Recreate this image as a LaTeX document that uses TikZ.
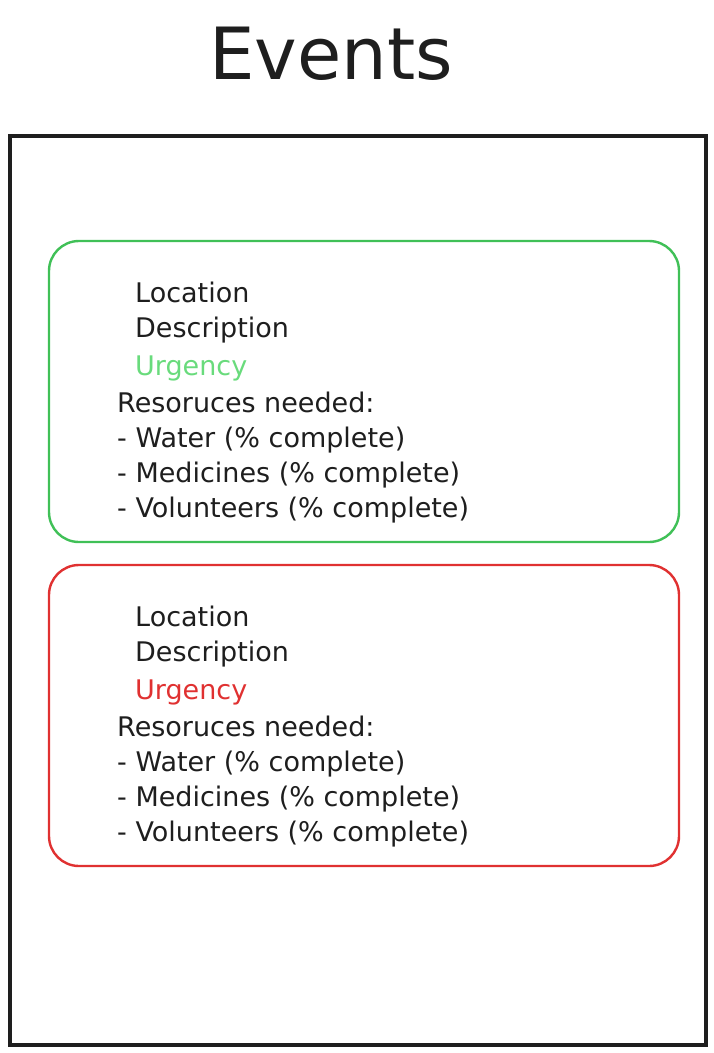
\documentclass[tikz,border=0pt]{standalone}
\usepackage{fontspec}
\setmainfont{DejaVu Sans}
\usepackage{xcolor}
\usepackage{tikz}

\definecolor{inkblack}{HTML}{1E1E1E}
\definecolor{okgreen}{HTML}{40C057}
\definecolor{okgreenlight}{HTML}{69DB7C}
\definecolor{alertred}{HTML}{E03131}

\begin{document}
\begin{tikzpicture}[x=1pt,y=-1pt,
    panel/.style={draw=inkblack,line width=3.5pt,minimum width=696pt,minimum height=909pt,inner sep=0pt},
    card/.style={draw=#1,line width=2.4pt,rounded corners=30pt,minimum width=630pt,minimum height=301pt,inner sep=0pt},
    field/.style={anchor=base west,inner sep=0pt,text=inkblack,font=\fontsize{27}{32}\selectfont}]
  \useasboundingbox (0,0) rectangle (714,1053);

  \node[anchor=base,inner sep=0pt,text=inkblack,font=\fontsize{72}{80}\selectfont] (title) at (331,79) {Events};
  \node[panel] (board) at (358,590.5) {};

  % one card per event, the second one 324px lower
  \foreach \ev/\col/\urg/\dy in {ok/okgreen/okgreenlight/0, bad/alertred/alertred/324} {
    \node[card=\col] (card-\ev) at (364,{391.5+\dy}) {};
    \node[field] (loc-\ev) at (135,{302+\dy}) {Location};
    \node[field] (desc-\ev) at (135,{337+\dy}) {Description};
    \node[field,text=\urg] (urg-\ev) at (135,{375+\dy}) {Urgency};
    \node[field] (res-\ev) at (117,{412+\dy}) {Resoruces needed:};
    \node[field] (water-\ev) at (117,{447+\dy}) {- Water (\% complete)};
    \node[field] (med-\ev) at (117,{482+\dy}) {- Medicines (\% complete)};
    \node[field] (vol-\ev) at (117,{517+\dy}) {- Volunteers (\% complete)};
  }
\end{tikzpicture}
\end{document}
